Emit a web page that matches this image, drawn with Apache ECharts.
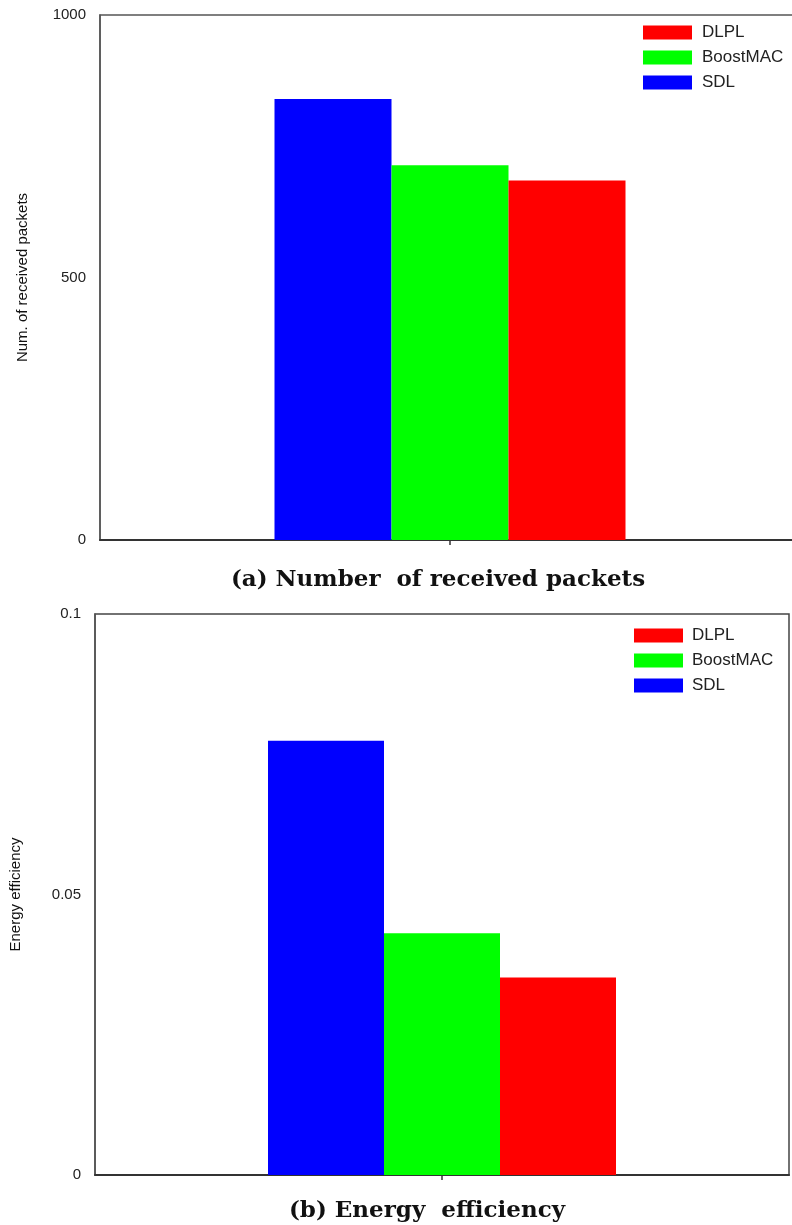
<!DOCTYPE html>
<html>
<head>
<meta charset="utf-8">
<script src="https://cdn.jsdelivr.net/npm/echarts@6/dist/echarts.min.js"></script>
<style>
  html, body { margin: 0; padding: 0; background: #fff; }
  #main { width: 792px; height: 1225px; }
</style>
</head>
<body>
<div id="main"></div>
<script>
// data
var categories = [''];
var seriesNames = ['SDL', 'BoostMAC', 'DLPL'];
var legendOrder = ['DLPL', 'BoostMAC', 'SDL'];
var packets = [840, 714, 685];          // (a) received packets
var efficiency = [0.0774, 0.0431, 0.0352]; // (b) energy efficiency
var packetTicks = [0, 1000, 500];       // min, max, interval
var effTicks = [0, 0.1, 0.05];
var colors = ['#0000ff', '#00ff00', '#ff0000'];

var myChart = echarts.init(document.getElementById('main'));

function yAxisCfg(gridIndex, ticks, name, gap) {
    return {
        type: 'value',
        gridIndex: gridIndex,
        min: ticks[0],
        max: ticks[1],
        interval: ticks[2],
        name: name,
        nameLocation: 'middle',
        nameGap: gap,
        nameTextStyle: { fontFamily: 'Liberation Sans', fontSize: 15, color: '#111' },
        axisLine: { show: true, lineStyle: { color: '#555', width: 1.5 } },
        axisTick: { show: false },
        splitLine: { show: false },
        axisLabel: {
            margin: 14, fontFamily: 'Liberation Sans', fontSize: 15, color: '#222',
            formatter: function (v) { return String(v); }
        }
    };
}

function xAxisCfg(gridIndex) {
    return {
        type: 'category',
        gridIndex: gridIndex,
        data: categories,
        axisLine: { lineStyle: { color: '#333', width: 2 } },
        axisTick: { show: true, alignWithLabel: true, length: 5, lineStyle: { color: '#333', width: 1.5 } },
        axisLabel: { show: false }
    };
}

function legendCfg(left, top, pad) {
    return {
        left: left, top: top,
        orient: 'vertical',
        data: legendOrder,
        icon: 'rect',
        itemWidth: 49,
        itemHeight: 14,
        itemGap: 8,
        selectedMode: false,
        textStyle: { fontFamily: 'Liberation Sans', fontSize: 17, color: '#222', padding: [0, 0, 0, pad] }
    };
}

var series = [];
seriesNames.forEach(function (name, i) {
    series.push({
        name: name, type: 'bar', xAxisIndex: 0, yAxisIndex: 0,
        barWidth: 117, barGap: '0%',
        itemStyle: { color: colors[i] },
        data: [packets[i]]
    });
});
seriesNames.forEach(function (name, i) {
    series.push({
        name: name, type: 'bar', xAxisIndex: 1, yAxisIndex: 1,
        barWidth: 116, barGap: '0%',
        itemStyle: { color: colors[i] },
        data: [efficiency[i]]
    });
});

var option = {
    backgroundColor: '#fff',
    animation: false,
    title: [{
        text: '(a) Number  of received packets',
        left: 433, top: 564, textAlign: 'center',
        textStyle: { fontFamily: 'DejaVu Serif', fontWeight: 'bold', fontSize: 23, color: '#111' }
    }, {
        text: '(b) Energy  efficiency',
        left: 422, top: 1195, textAlign: 'center',
        textStyle: { fontFamily: 'DejaVu Serif', fontWeight: 'bold', fontSize: 23, color: '#111' }
    }],
    legend: [legendCfg(638, 19, 5), legendCfg(629, 622, 4)],
    grid: [
        { left: 100, top: 15, width: 700, height: 525, outerBoundsMode: 'none', show: true, borderColor: '#555', borderWidth: 1.5, containLabel: false },
        { left: 95, top: 614, right: 3, height: 561, outerBoundsMode: 'none', show: true, borderColor: '#444', borderWidth: 1.5, containLabel: false }
    ],
    xAxis: [xAxisCfg(0), xAxisCfg(1)],
    yAxis: [
        yAxisCfg(0, packetTicks, 'Num. of received packets', 70),
        yAxisCfg(1, effTicks, 'Energy efficiency', 72)
    ],
    series: series
};
myChart.setOption(option);
</script>
</body>
</html>
